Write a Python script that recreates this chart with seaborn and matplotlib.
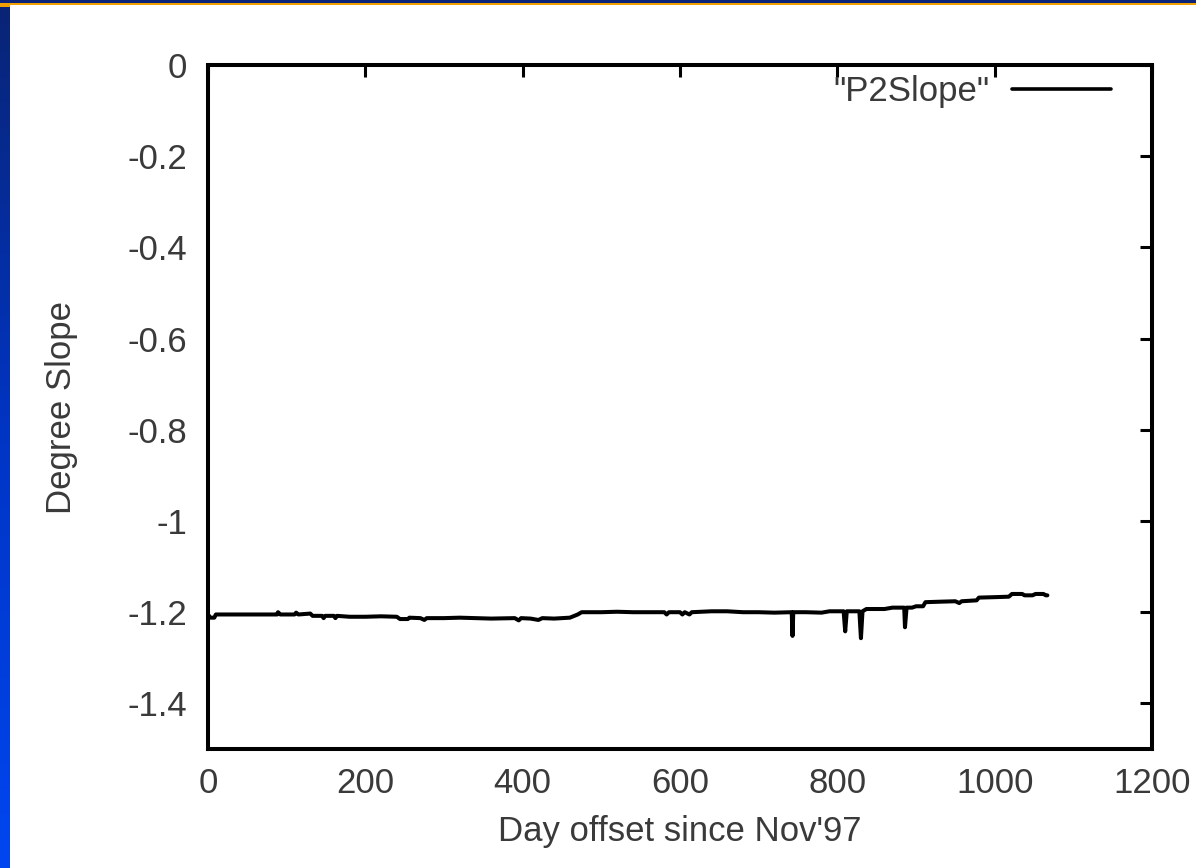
import numpy as np
import pandas as pd
import matplotlib
matplotlib.use("Agg")
import matplotlib.pyplot as plt
from matplotlib.patches import Rectangle
from matplotlib.colors import LinearSegmentedColormap
import seaborn as sns

# ---- data ----
days = [0, 3, 8, 10, 60, 88, 89, 92, 110, 112, 115, 130, 133, 145, 147, 149,
        160, 162, 164, 180, 200, 220, 240, 244, 254, 256, 270, 275, 278, 300,
        320, 340, 360, 390, 395, 398, 410, 420, 425, 440, 460, 470, 475, 500,
        520, 540, 560, 580, 583, 586, 600, 603, 606, 612, 615, 640, 660, 680,
        700, 720, 742, 743, 744, 760, 780, 790, 808, 810, 812, 828, 830, 832,
        837, 860, 870, 885, 886, 888, 895, 900, 909, 912, 930, 950, 955, 958,
        977, 980, 1000, 1018, 1022, 1035, 1038, 1048, 1052, 1062, 1065, 1067]
slope = [-1.205, -1.212, -1.212, -1.205, -1.205, -1.205, -1.200, -1.205,
         -1.205, -1.201, -1.205, -1.203, -1.208, -1.208, -1.213, -1.208,
         -1.208, -1.213, -1.208, -1.210, -1.210, -1.209, -1.210, -1.215,
         -1.215, -1.212, -1.213, -1.217, -1.213, -1.213, -1.212, -1.213,
         -1.214, -1.213, -1.218, -1.213, -1.214, -1.217, -1.213, -1.214,
         -1.212, -1.205, -1.200, -1.200, -1.199, -1.200, -1.200, -1.200,
         -1.205, -1.200, -1.200, -1.205, -1.200, -1.205, -1.200, -1.198,
         -1.198, -1.200, -1.200, -1.201, -1.200, -1.252, -1.200, -1.200,
         -1.201, -1.198, -1.198, -1.242, -1.198, -1.198, -1.257, -1.198,
         -1.193, -1.193, -1.190, -1.190, -1.233, -1.190, -1.190, -1.187,
         -1.187, -1.178, -1.177, -1.176, -1.180, -1.176, -1.174, -1.168,
         -1.167, -1.166, -1.160, -1.160, -1.163, -1.163, -1.160, -1.160,
         -1.163, -1.163]
series_name = '"P2Slope"'
x_ticks = [0, 200, 400, 600, 800, 1000, 1200]
y_ticks = [0, -0.2, -0.4, -0.6, -0.8, -1, -1.2, -1.4]
y_tick_labels = ["0", "-0.2", "-0.4", "-0.6", "-0.8", "-1", "-1.2", "-1.4"]
x_label = "Day offset since Nov'97"
y_label = "Degree Slope"

df = pd.DataFrame({"day": days, "slope": slope, "series": series_name})

sns.set_theme(style="white")
plt.rcParams["font.family"] = ["Liberation Sans", "DejaVu Sans"]
text_color = "#3a3a3a"

W, H = 1196, 868
fig = plt.figure(figsize=(W / 100, H / 100), dpi=100)
fig.patch.set_facecolor("white")

# decorative slide frame: left gradient strip and top bands
strip = fig.add_axes([0, 0, 10 / W, 1])
cmap = LinearSegmentedColormap.from_list("strip", ["#0a2474", "#0035c4", "#0046f0"])
strip.imshow(np.linspace(0, 1, 256).reshape(-1, 1), aspect="auto", cmap=cmap,
             extent=[0, 1, 0, 1], origin="upper")
strip.set_axis_off()
fig.patches.append(Rectangle((0, 1 - 3 / H), 1, 3 / H, transform=fig.transFigure,
                             facecolor="#0b2478", edgecolor="none", zorder=5))
fig.patches.append(Rectangle((0, 1 - 5 / H), 1, 2 / H, transform=fig.transFigure,
                             facecolor="#f0a000", edgecolor="none", zorder=5))
fig.patches.append(Rectangle((0, 1 - 7 / H), 10 / W, 4 / H, transform=fig.transFigure,
                             facecolor="#f0a000", edgecolor="none", zorder=5))

left, right, top, bottom = 208, 1152, 65, 749
ax = fig.add_axes([left / W, 1 - bottom / H, (right - left) / W, (bottom - top) / H])
ax.set_facecolor("white")

sns.lineplot(data=df, x="day", y="slope", hue="series", palette=["black"],
             estimator=None, sort=False, linewidth=2.9, ax=ax)

ax.set_xlim(0, 1200)
ax.set_ylim(-1.5, 0)
ax.set_xticks(x_ticks)
ax.set_xticklabels([str(t) for t in x_ticks])
ax.set_yticks(y_ticks)
ax.set_yticklabels(y_tick_labels)

for sp in ax.spines.values():
    sp.set_visible(True)
    sp.set_color("black")
    sp.set_linewidth(2.9)

ax.tick_params(axis="both", which="major", direction="in", length=8.5, width=2.2,
               color="black", top=True, right=True, labelsize=25,
               labelcolor=text_color)
ax.tick_params(axis="x", pad=13)
ax.tick_params(axis="y", pad=15)

ax.set_xlabel(x_label, fontsize=25, color=text_color)
ax.set_ylabel(y_label, fontsize=25, color=text_color)
ax.xaxis.label.set_va("center")
ax.yaxis.label.set_va("center")
ax.xaxis.set_label_coords(0.5, -(831 - bottom) / (bottom - top))
ax.yaxis.set_label_coords((61 - left) / (right - left), 0.5)

leg = ax.legend(loc="upper right", bbox_to_anchor=((1111 - left) / (right - left), 0.985),
                frameon=False, markerfirst=False, handlelength=2.85,
                handletextpad=0.65, borderaxespad=0, borderpad=0, fontsize=25)
for t in leg.get_texts():
    t.set_color(text_color)
for h in leg.get_lines():
    h.set_linewidth(2.6)

fig.savefig("out.png", dpi=100, facecolor="white")
